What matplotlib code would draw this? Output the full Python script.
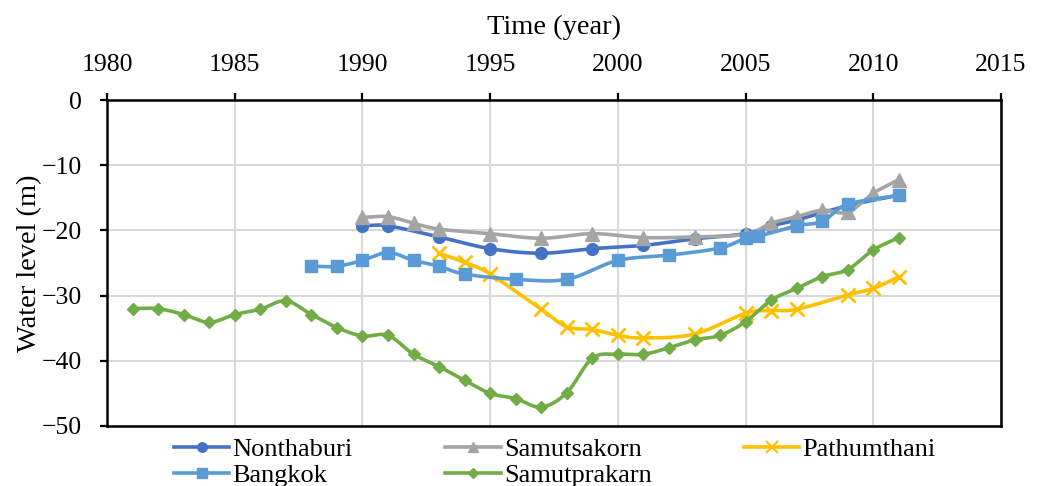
import numpy as np
import matplotlib
matplotlib.use("Agg")
import matplotlib.pyplot as plt

plt.rcParams['font.family'] = ['Liberation Serif', 'DejaVu Serif']

# ---- data ----
non_years = [1990, 1991, 1993, 1995, 1997, 1999, 2001, 2003, 2005, 2006, 2007, 2009, 2011]
non_vals = [-19.3, -19.3, -21.0, -22.8, -23.5, -22.8, -22.3, -21.3, -20.5, -19.3, -18.4, -16.2, -14.6]

sak_years = [1990, 1991, 1992, 1993, 1995, 1997, 1999, 2001, 2003, 2005, 2006, 2007, 2008, 2009, 2010, 2011]
sak_vals = [-18.0, -17.9, -18.9, -19.8, -20.5, -21.2, -20.5, -21.1, -21.0, -20.6, -18.9, -17.9, -16.9, -17.2, -14.3, -12.2]

pat_years = [1993, 1994, 1995, 1997, 1998, 1999, 2000, 2001, 2003, 2005, 2006, 2007, 2009, 2010, 2011]
pat_vals = [-23.5, -24.9, -26.7, -32.1, -34.8, -35.2, -36.1, -36.5, -35.9, -32.7, -32.3, -32.1, -29.9, -28.9, -27.1]

bkk_years = [1988, 1989, 1990, 1991, 1992, 1993, 1994, 1996, 1998, 2000, 2002, 2004, 2005, 2005.5, 2007, 2008, 2009, 2011]
bkk_vals = [-25.5, -25.5, -24.6, -23.4, -24.6, -25.5, -26.7, -27.5, -27.5, -24.6, -23.8, -22.7, -21.2, -20.9, -19.3, -18.6, -16.0, -14.6]

spk_years = list(range(1981, 2012))
spk_vals = [-32.0, -32.0, -32.9, -34.1, -32.9, -32.1, -30.8, -32.9, -34.9, -36.2,
            -36.1, -39.0, -40.9, -43.0, -45.0, -45.8, -47.1, -44.9, -39.6, -39.0,
            -39.0, -38.0, -36.8, -36.1, -34.0, -30.7, -28.9, -27.1, -26.0, -23.0, -21.1]

x_ticks = [1980, 1985, 1990, 1995, 2000, 2005, 2010, 2015]
y_ticks = [0, -10, -20, -30, -40, -50]


def smooth(xs, ys, n=20):
    """Catmull-Rom style Bezier spline through the points (like Excel's smoothed line)."""
    x = np.asarray(xs, float)
    y = np.asarray(ys, float)
    if len(x) < 3:
        return x, y
    px = np.concatenate([[2 * x[0] - x[1]], x, [2 * x[-1] - x[-2]]])
    py = np.concatenate([[2 * y[0] - y[1]], y, [2 * y[-1] - y[-2]]])
    ox, oy = [], []
    t = np.linspace(0, 1, n, endpoint=False)
    for i in range(1, len(px) - 2):
        p0x, p1x, p2x, p3x = px[i - 1:i + 3]
        p0y, p1y, p2y, p3y = py[i - 1:i + 3]
        c1x = p1x + (p2x - p0x) / 6
        c1y = p1y + (p2y - p0y) / 6
        c2x = p2x - (p3x - p1x) / 6
        c2y = p2y - (p3y - p1y) / 6
        b0 = (1 - t) ** 3
        b1 = 3 * (1 - t) ** 2 * t
        b2 = 3 * (1 - t) * t ** 2
        b3 = t ** 3
        ox.append(b0 * p1x + b1 * c1x + b2 * c2x + b3 * p2x)
        oy.append(b0 * p1y + b1 * c1y + b2 * c2y + b3 * p2y)
    ox.append([x[-1]])
    oy.append([y[-1]])
    return np.concatenate(ox), np.concatenate(oy)


fig = plt.figure(figsize=(10.41, 4.86), dpi=100)
ax = fig.add_axes([0.1028, 0.1235, 0.8588, 0.6707])

series = [
    ("Nonthaburi", non_years, non_vals, "#4472C4", "o", 8.5),
    ("Samutsakorn", sak_years, sak_vals, "#A5A5A5", "^", 9.5),
    ("Pathumthani", pat_years, pat_vals, "#FFC000", "x", 10.5),
    ("Bangkok", bkk_years, bkk_vals, "#5B9BD5", "s", 8.5),
    ("Samutprakarn", spk_years, spk_vals, "#70AD47", "D", 6.5),
]

handles = []
for i, (name, xs, ys, col, mk, ms) in enumerate(series):
    sx, sy = smooth(xs, ys)
    ax.plot(sx, sy, color=col, lw=2.6, zorder=3 + i, solid_capstyle='round')
    ax.plot(xs, ys, linestyle='none', marker=mk, markersize=ms, color=col,
            markeredgecolor=col, markeredgewidth=2 if mk == 'x' else 1, zorder=3 + i)
    h, = ax.plot([], [], color=col, lw=2.6, marker=mk, markersize=ms * 0.8,
                 markeredgewidth=1.5 if mk == 'x' else 1, markeredgecolor=col)
    handles.append((h, name))

ax.set_xlim(1980, 2015)
ax.set_ylim(-50, 0)
ax.set_xticks(x_ticks)
ax.set_yticks(y_ticks)
ax.set_yticklabels([str(v).replace('-', '\u2212') for v in y_ticks])
ax.xaxis.tick_top()
ax.xaxis.set_label_position('top')
ax.tick_params(axis='x', direction='out', length=5, width=1.6, labelsize=18.5, pad=12)
ax.tick_params(axis='y', direction='out', length=5, width=1.6, labelsize=18.5, pad=13)
ax.grid(True, color='#D9D9D9', lw=1.5)
ax.set_axisbelow(True)
for s in ax.spines.values():
    s.set_linewidth(1.8)
    s.set_color('black')

ax.set_xlabel('Time (year)', fontsize=20.5, labelpad=15)
ax.set_ylabel('Water level (m)', fontsize=20.5, labelpad=0)

# legend order: row1 Nonthaburi, Samutsakorn, Pathumthani; row2 Bangkok, Samutprakarn
order = [0, 3, 1, 4, 2]
leg = fig.legend([handles[i][0] for i in order], [handles[i][1] for i in order],
                 loc='upper left', bbox_to_anchor=(174 / 1041, 1 - 438 / 486), ncol=3,
                 frameon=False, fontsize=19, handlelength=2.1, handletextpad=0.12,
                 columnspacing=3.5, labelspacing=0.08, borderpad=0, borderaxespad=0)

fig.savefig('out.png', dpi=100)
